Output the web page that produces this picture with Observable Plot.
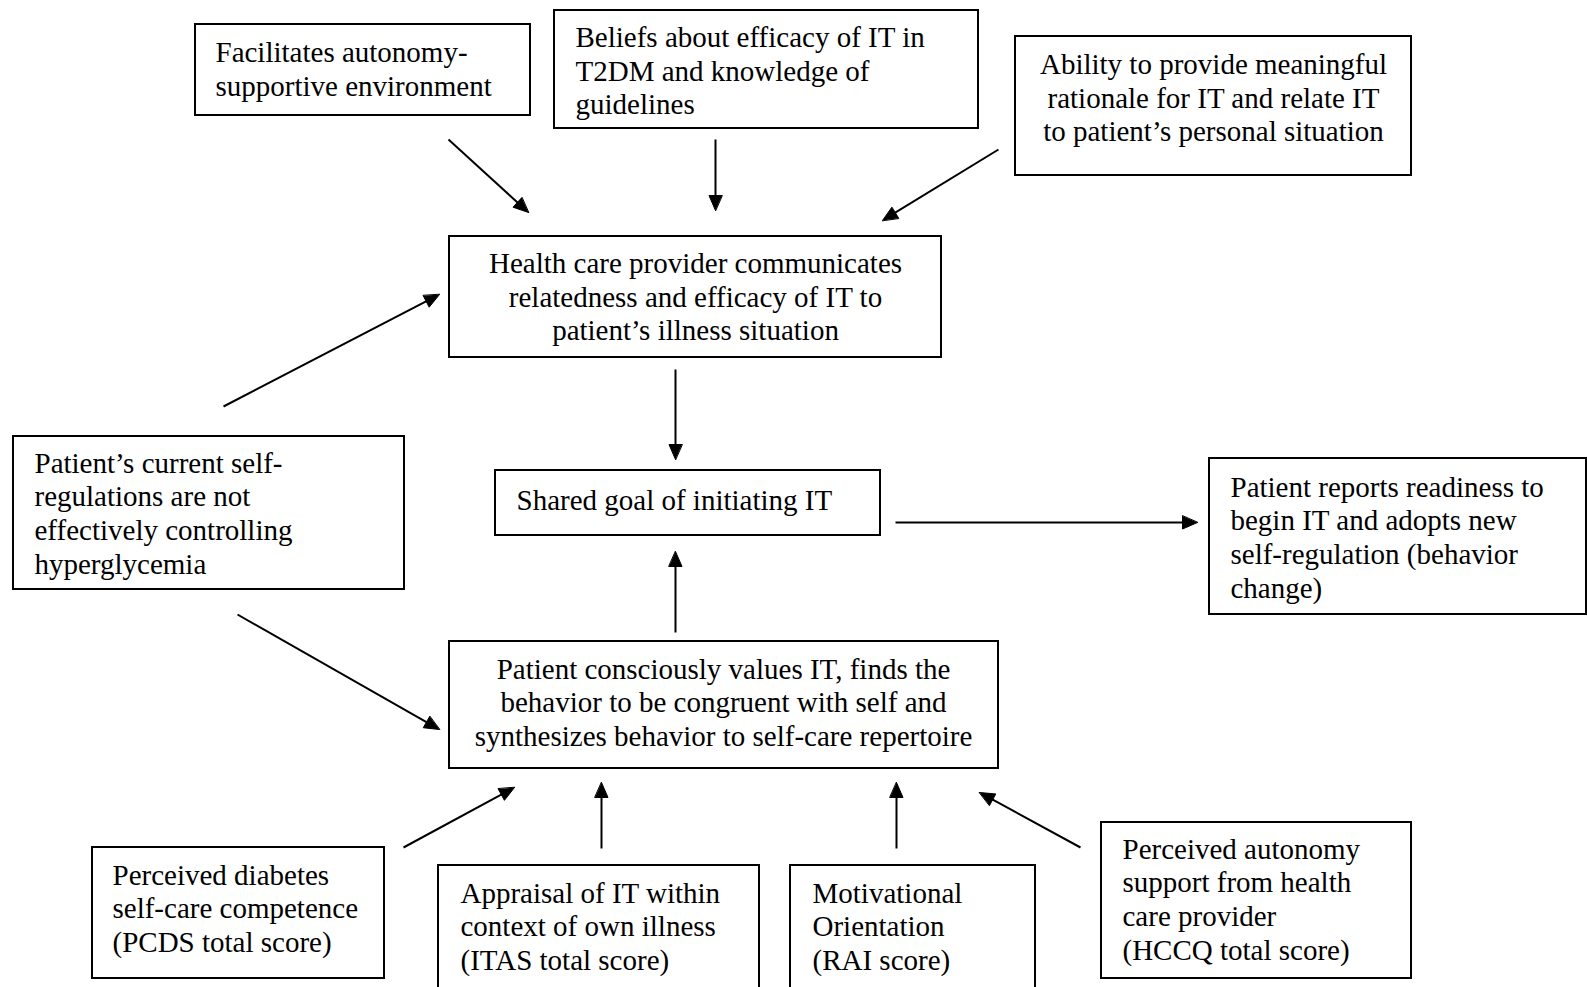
<!DOCTYPE html>
<html>
<head>
<meta charset="utf-8">
<script src="https://cdn.jsdelivr.net/npm/d3@7"></script>
<script src="https://cdn.jsdelivr.net/npm/@observablehq/plot@0.6"></script>
<style>
html, body { margin: 0; padding: 0; background: #fff; overflow: hidden; }
#chart svg { display: block; }
</style>
</head>
<body>
<div id="chart"></div>
<script>
// Box labels (diagram nodes)
const boxLabels = [
  "Facilitates autonomy-\nsupportive environment",
  "Beliefs about efficacy of IT in\nT2DM and knowledge of\nguidelines",
  "Ability to provide meaningful\nrationale for IT and relate IT\nto patient\u2019s personal situation",
  "Health care provider communicates\nrelatedness and efficacy of IT to\npatient\u2019s illness situation",
  "Shared goal of initiating IT",
  "Patient\u2019s current self-\nregulations are not\neffectively controlling\nhyperglycemia",
  "Patient reports readiness to\nbegin IT and adopts new\nself-regulation (behavior\nchange)",
  "Patient consciously values IT, finds the\nbehavior to be congruent with self and\nsynthesizes behavior to self-care repertoire",
  "Perceived diabetes\nself-care competence\n(PCDS total score)",
  "Appraisal of IT within\ncontext of own illness\n(ITAS total score)",
  "Motivational\nOrientation\n(RAI score)",
  "Perceived autonomy\nsupport from health\ncare provider\n(HCCQ total score)"
];
const boxAlign  = ["start","start","middle","middle","start","start","start","middle","start","start","start","start"];
// Box extents (diagram coordinates)
const boxLeft   = [195, 554, 1015, 449, 495, 13, 1209, 449, 92, 438, 790, 1101];
const boxRight  = [530, 978, 1411, 941, 880, 404, 1586, 998, 384, 759, 1035, 1411];
const boxTop    = [24, 10, 36, 236, 470, 436, 458, 641, 847, 865, 865, 822];
const boxBottom = [115, 128, 175, 357, 535, 589, 614, 768, 978, 995, 995, 978];
// Text anchor points
const textX = [215, 575, 1213, 695, 516, 34, 1230, 723, 112, 460, 812, 1122];
const textY = [67.5, 69.5, 96.5, 295.5, 498.5, 512, 536, 701, 907, 925, 925, 898];

// Arrows: start and tip
const arrowX1 = [448, 715, 998, 223, 675, 895, 675, 237, 403, 601, 896, 1080];
const arrowY1 = [139, 139, 149, 406, 369, 522, 632, 614, 847, 848, 848, 847];
const arrowX2 = [528, 715, 882, 439, 675, 1197, 675, 439, 514, 601, 896, 979];
const arrowY2 = [212, 210, 220, 294, 459, 522, 551, 729, 787, 782, 782, 792];

const W = 1587, H = 987;
const boxes = boxLabels.map((label, i) => ({
  label, align: boxAlign[i],
  x1: boxLeft[i], x2: boxRight[i], y1: boxTop[i], y2: boxBottom[i],
  tx: textX[i], ty: textY[i]
}));

const headLen = 15, headWid = 13;
const shafts = [], heads = [];
arrowX1.forEach((x1, i) => {
  const y1 = arrowY1[i], x2 = arrowX2[i], y2 = arrowY2[i];
  const dx = x2 - x1, dy = y2 - y1, len = Math.hypot(dx, dy);
  const ux = dx / len, uy = dy / len;
  const bx = x2 - headLen * ux, by = y2 - headLen * uy;
  shafts.push({x1, y1, x2: bx + ux * 2, y2: by + uy * 2});
  heads.push({x: x2, y: y2, z: i});
  heads.push({x: bx - uy * headWid / 2, y: by + ux * headWid / 2, z: i});
  heads.push({x: bx + uy * headWid / 2, y: by - ux * headWid / 2, z: i});
});

const font = "'Liberation Serif', 'Times New Roman', serif";
const textCommon = {
  x: "tx", y: "ty", text: "label",
  fontFamily: font, fontSize: 29, lineHeight: 1.16,
  lineAnchor: "middle", fill: "#000"
};

const chart = Plot.plot({
  width: W, height: H,
  margin: 0,
  x: {domain: [0, W], range: [0, W], axis: null},
  y: {domain: [0, H], range: [0, H], axis: null},
  style: {background: "#fff"},
  marks: [
    Plot.rect(boxes, {x1: "x1", x2: "x2", y1: "y1", y2: "y2", fill: "#fff", stroke: "#000", strokeWidth: 2}),
    Plot.text(boxes.filter(d => d.align === "start"), {...textCommon, textAnchor: "start"}),
    Plot.text(boxes.filter(d => d.align === "middle"), {...textCommon, textAnchor: "middle"}),
    Plot.link(shafts, {x1: "x1", y1: "y1", x2: "x2", y2: "y2", stroke: "#000", strokeWidth: 2}),
    Plot.line(heads, {x: "x", y: "y", z: "z", fill: "#000", stroke: "#000", strokeWidth: 1, curve: "linear-closed"})
  ]
});
document.getElementById("chart").appendChild(chart);
</script>
</body>
</html>
